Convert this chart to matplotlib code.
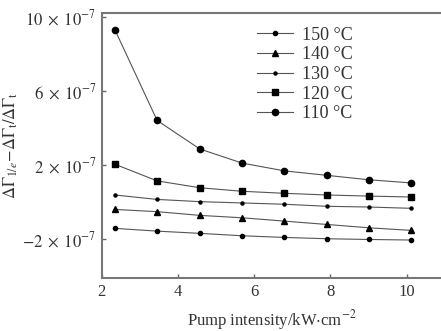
import matplotlib.pyplot as plt
import numpy as np

# pump intensity (kW/cm^2)
pump = [2.34, 3.45, 4.57, 5.68, 6.79, 7.90, 9.01, 10.12]

# relative change, units of 1e-7
t150 = [-1.42, -1.57, -1.69, -1.82, -1.91, -1.98, -2.02, -2.05]
t140 = [-0.40, -0.52, -0.72, -0.85, -1.03, -1.21, -1.39, -1.53]
t130 = [0.38, 0.14, 0.02, -0.05, -0.12, -0.23, -0.27, -0.34]
t120 = [2.04, 1.14, 0.77, 0.58, 0.47, 0.38, 0.32, 0.27]
t110 = [9.30, 4.40, 2.86, 2.10, 1.68, 1.44, 1.20, 1.03]

labels = ['150 °C', '140 °C', '130 °C', '120 °C', '110 °C']
yticks = [-2, 2, 6, 10]
xticks = [2, 4, 6, 8, 10]

plt.rcParams['font.family'] = ['Liberation Serif', 'DejaVu Serif']
plt.rcParams['mathtext.fontset'] = 'stix'

fig = plt.figure(figsize=(4.41, 3.31), dpi=100)
ax = fig.add_axes([0.231, 0.160, 0.769, 0.801])

series = [t150, t140, t130, t120, t110]
markers = [('o', 3), ('^', 4.5), ('o', 2.2), ('s', 4.5), ('o', 4.5)]
for ys, lab, (m, ms) in zip(series, labels, markers):
    ax.plot(pump, ys, color='#555555', lw=0.8, marker=m, ms=ms,
            mfc='black', mec='black', label=lab)

ax.set_xlim(2.08, 10.9)
ax.set_ylim(-4.1, 10.2)
ax.set_xticks(xticks)
ax.set_yticks(yticks)
ax.set_yticklabels([r'$%d\;\times\;10^{-7}$' % v if v >= 0
                    else r'$-%d\;\times\;10^{-7}$' % -v for v in yticks])
ax.tick_params(direction='in', length=3, width=1, color='#666666',
               labelsize=12, labelcolor='#333333', pad=4)

for s in ['left', 'top', 'bottom']:
    ax.spines[s].set_color('#777777')
    ax.spines[s].set_linewidth(1.5)
ax.spines['right'].set_visible(False)

ax.set_xlabel(r'Pump intensity/kW$\cdot$cm$^{-2}$', fontsize=12, color='#333333',
              labelpad=6)
ax.set_ylabel(r'$\Delta\Gamma_{1/e}\!-\!\Delta\Gamma_{\rm t}/\Delta\Gamma_{\rm t}$',
              fontsize=12, color='#333333', labelpad=2)

ax.legend(loc='upper left', bbox_to_anchor=(0.41, 1.01), frameon=False,
          fontsize=13, handlelength=2.0, labelspacing=0.15, handletextpad=0.5,
          labelcolor='#333333')

fig.savefig('out.png', dpi=100)
